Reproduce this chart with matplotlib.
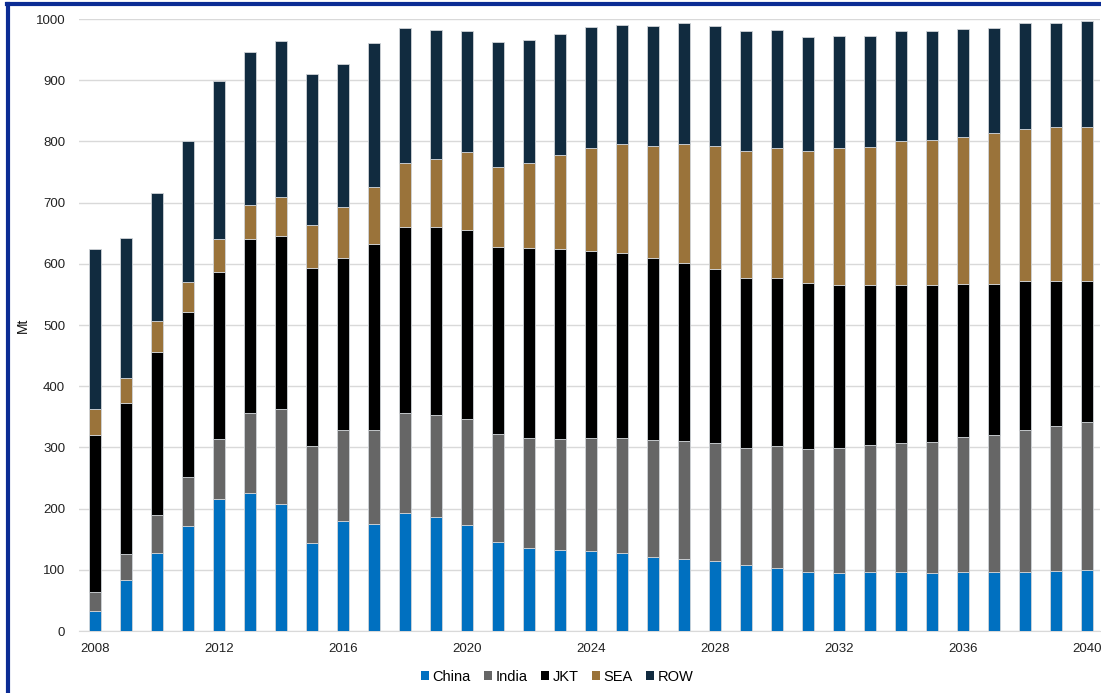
import matplotlib
matplotlib.use('Agg')

import numpy as np
import matplotlib.pyplot as plt
from matplotlib.patches import Patch
from matplotlib.lines import Line2D

plt.rc('font', family='Liberation Sans', size=9)

years = np.arange(2008, 2041)

# segment sizes (Mt)
china = [33, 84, 127, 171, 215, 226, 207, 143, 180, 175, 192, 187, 174, 145, 136, 132, 130,
         127, 121, 118, 115, 108, 103, 96, 94, 96, 97, 95, 96, 97, 97, 98, 99]
india = [30, 42, 63, 80, 99, 130, 156, 159, 148, 153, 164, 166, 173, 177, 180, 181, 185,
         188, 191, 193, 192, 191, 199, 202, 205, 208, 210, 214, 221, 223, 231, 237, 243]
jkt = [257, 246, 266, 271, 273, 284, 283, 291, 282, 305, 304, 307, 309, 306, 310, 311, 306,
       303, 298, 291, 284, 278, 275, 271, 266, 261, 258, 256, 250, 247, 244, 237, 230]
sea = [42, 42, 50, 48, 53, 56, 63, 70, 83, 92, 105, 112, 126, 130, 138, 154, 168,
       177, 183, 193, 202, 207, 212, 216, 225, 226, 235, 238, 241, 247, 248, 251, 251]
row = [262, 228, 210, 230, 258, 250, 255, 247, 233, 236, 220, 210, 199, 204, 201, 197, 198,
       195, 195, 198, 196, 196, 193, 185, 182, 182, 180, 177, 176, 172, 173, 171, 173]

series = [('China', china, '#0070C0'),
          ('India', india, '#666666'),
          ('JKT', jkt, '#000000'),
          ('SEA', sea, '#9A733A'),
          ('ROW', row, '#112B3F')]

fig = plt.figure(figsize=(11.01, 6.93), dpi=100, facecolor='w')
ax = fig.add_axes([79/1101, 62/693, 1021/1101, 612/693])

bottom = np.zeros(len(years))
for name, vals, col in series:
    vals = np.array(vals, dtype=float)
    ax.bar(years, vals, width=0.4, bottom=bottom, color=col,
           edgecolor='#D0D4D8', linewidth=0.6, zorder=3)
    bottom += vals

ax.set_xlim(2007.48, 2040.42)
ax.set_ylim(0, 1000)
ax.set_yticks(np.arange(0, 1001, 100))
ax.set_xticks(np.arange(2008, 2041, 4))
ax.yaxis.grid(True, color='#D9D9D9', lw=1, zorder=0)
for s in ['top', 'right', 'left']:
    ax.spines[s].set_visible(False)
ax.spines['bottom'].set_color('#D9D9D9')
ax.tick_params(axis='both', length=0, labelsize=9.5, colors='#222222')
ax.tick_params(axis='y', pad=10)
ax.tick_params(axis='x', pad=9)
ax.set_ylabel('Mt', fontsize=10, color='#111111')
ax.yaxis.set_label_coords(-49/1021, 0.5)

handles = [Patch(facecolor=c, edgecolor='none') for _, _, c in series]
fig.legend(handles, [n for n, _, _ in series], loc='center', bbox_to_anchor=(557/1101, 1 - 677/693),
           ncol=5, frameon=False, fontsize=10.5, handlelength=0.55, handleheight=0.55,
           handletextpad=0.25, columnspacing=0.9)

# frame lines round the figure
fig.add_artist(Line2D([7/1101, 1], [1 - 4/693, 1 - 4/693], color='#0B2C94', lw=3))
fig.add_artist(Line2D([8/1101, 8/1101], [0, 1 - 4/693], color='#0B2C94', lw=3))

plt.savefig('out.png', dpi=100, facecolor='w')
